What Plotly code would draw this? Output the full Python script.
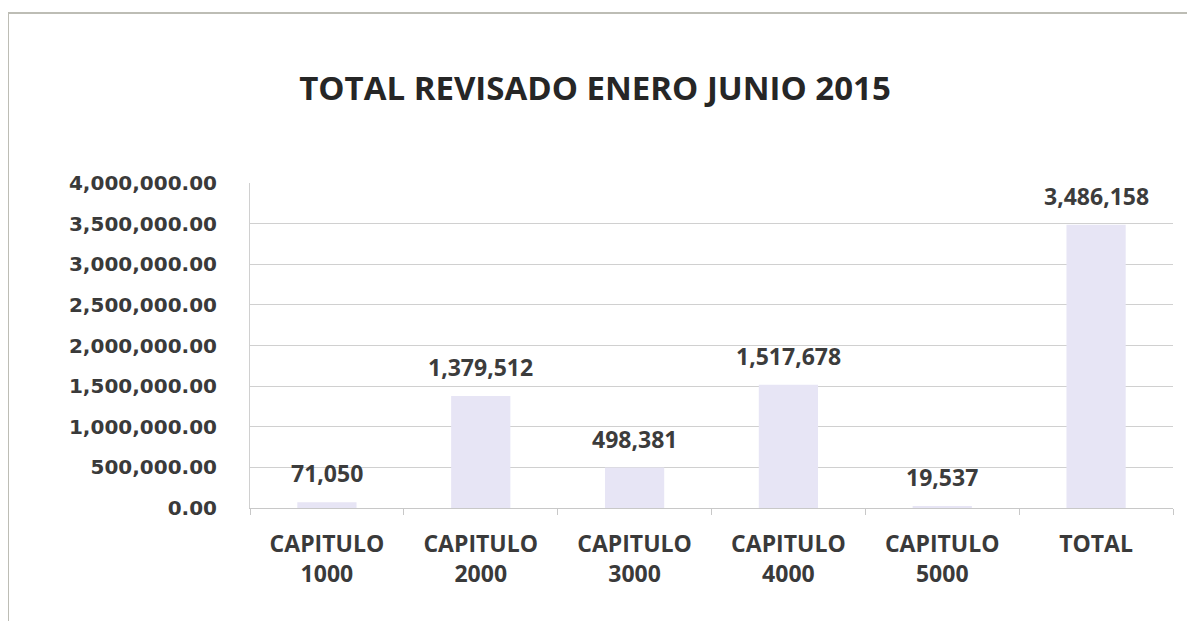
import plotly.graph_objects as go

categories = ["CAPITULO<br>1000", "CAPITULO<br>2000", "CAPITULO<br>3000",
              "CAPITULO<br>4000", "CAPITULO<br>5000", "TOTAL"]
values = [71050, 1379512, 498381, 1517678, 19537, 3486158]
y_ticks = [0, 500000, 1000000, 1500000, 2000000, 2500000, 3000000, 3500000, 4000000]
y_tick_labels = ["{:,.2f}".format(v) for v in y_ticks]
bar_labels = ["{:,}".format(v) for v in values]

# plot area in layout pixels
L, T, W, H = 242, 175, 923, 325

fig = go.Figure(
    go.Bar(
        x=categories,
        y=values,
        marker=dict(color="#e7e5f5", line=dict(width=0)),
        width=0.385,
        hoverinfo="x+y",
    )
)

# data labels, sitting higher above the bars like Excel does
for cat, val, lab in zip(categories, values, bar_labels):
    fig.add_annotation(
        x=cat, y=val, text=lab,
        showarrow=False,
        yanchor="bottom",
        yshift=11,
        font=dict(family="Open Sans", size=23, color="#3c3c3c", weight="bold"),
    )

fig.update_layout(
    width=1195,
    height=621,
    margin=dict(l=L, r=1195 - L - W, t=T, b=621 - T - H),
    paper_bgcolor="white",
    plot_bgcolor="white",
    showlegend=False,
    title=dict(
        text="<b>TOTAL REVISADO ENERO JUNIO 2015</b>",
        x=587 / 1195,
        xanchor="center",
        y=1 - 80 / 621,
        yanchor="middle",
        font=dict(family="Open Sans", size=33, color="#262626"),
    ),
)

fig.update_yaxes(
    range=[0, 4000000],
    tickvals=y_ticks,
    ticktext=y_tick_labels,
    showgrid=True,
    gridcolor="#d0d0d0",
    gridwidth=1,
    showline=True,
    linecolor="#d0d0d0",
    zeroline=False,
    tickfont=dict(family="DejaVu Sans", size=20, color="#3a3a3a", weight="bold"),
    ticks="",
    ticklabelstandoff=28,
    automargin=False,
)

fig.update_xaxes(
    showline=True,
    linecolor="#c8c8c8",
    ticks="outside",
    ticklen=6,
    tickcolor="#c8c8c8",
    tickson="boundaries",
    ticklabelstandoff=15,
    tickfont=dict(family="Open Sans", size=23, color="#3a3a3a", weight="bold"),
    automargin=False,
)

# chart border
fig.add_shape(
    type="rect",
    xref="paper", yref="paper",
    x0=-L / W, x1=1.2,
    y0=-0.6, y1=(T + H - 5) / H,
    line=dict(color="#bdbdb5", width=2),
    layer="below",
)

fig.write_html("out.html")
